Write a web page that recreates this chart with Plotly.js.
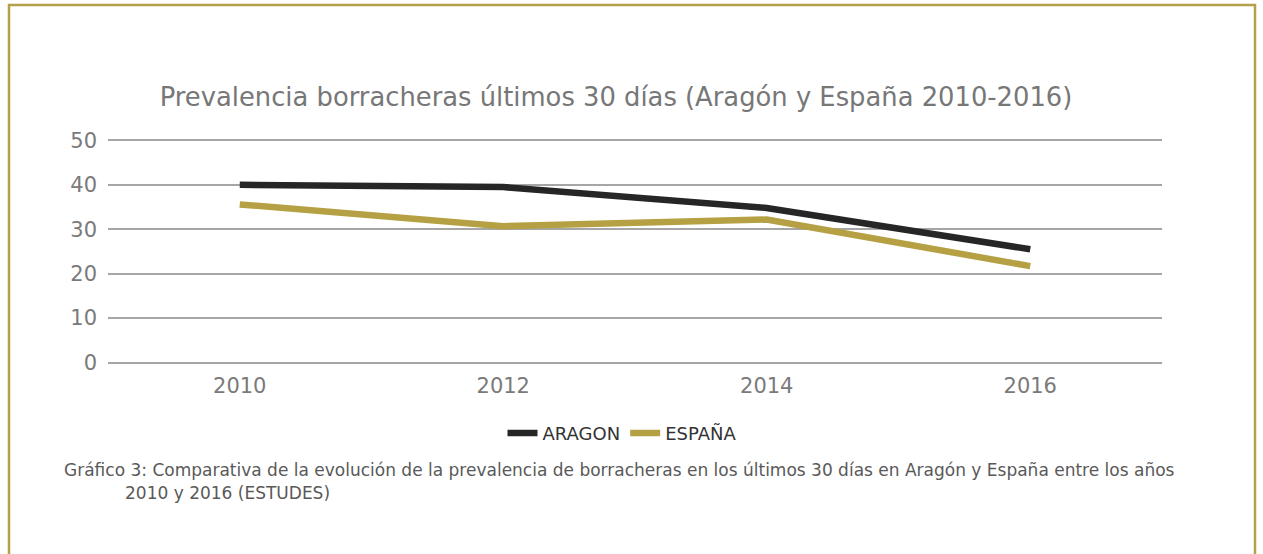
<!DOCTYPE html>
<html>
<head>
<meta charset="utf-8">
<script src="https://cdn.plot.ly/plotly-3.0.1.min.js"></script>
<style>
html,body{margin:0;padding:0;background:#fff;}
#chart{width:1263px;height:554px;}
</style>
</head>
<body>
<div id="chart"></div>
<script>
const years = ['2010', '2012', '2014', '2016'];
const aragon = [40.0, 39.5, 34.8, 25.5];
const espana = [35.6, 30.7, 32.2, 21.7];
const seriesNames = ['ARAGON', 'ESPAÑA'];
const yTicks = [0, 10, 20, 30, 40, 50];
const titleText = 'Prevalencia borracheras últimos 30 días (Aragón y España 2010-2016)';
const captionLine1 = 'Gráfico 3: Comparativa de la evolución de la prevalencia de borracheras en los últimos 30 días en Aragón y España entre los años';
const captionLine2 = '2010 y 2016 (ESTUDES)';

const FONT = 'DejaVu Sans, sans-serif';
const W = 1263, H = 554;
// plot area: x 108..1162, y 140 (50) .. 363 (0), padded so edge gridlines are drawn
const PADV = 1;
const unitPx = 223 / 50;
const L = 108, R = 101;
const T = 140 - PADV * unitPx, B = (H - 363) - PADV * unitPx;
const pw = W - L - R, ph = H - T - B;
function px2x(p){ return (p - L) / pw; }
function py2y(p){ return (H - B - p) / ph; }

const traces = [
  {x: years, y: aragon, name: seriesNames[0], type: 'scatter', mode: 'lines',
   line: {color: '#262626', width: 6.5}},
  {x: years, y: espana, name: seriesNames[1], type: 'scatter', mode: 'lines',
   line: {color: '#b5a143', width: 6.5}}
];

const layout = {
  width: W, height: H,
  margin: {l: L, r: R, t: T, b: B, pad: 0},
  paper_bgcolor: '#ffffff', plot_bgcolor: '#ffffff',
  font: {family: FONT, color: '#7a7a7a'},
  showlegend: true,
  title: {text: titleText, font: {family: FONT, size: 25.8, color: '#777777'},
          x: 616 / W, xanchor: 'center', y: 1 - 97 / H, yanchor: 'middle'},
  xaxis: {type: 'category', range: [-0.5, 3.5], showgrid: false, zeroline: false,
          showline: false, ticks: '', tickfont: {family: FONT, size: 21, color: '#7a7a7a'},
          ticklabelstandoff: 4, fixedrange: true},
  yaxis: {range: [-PADV, 50 + PADV], tickvals: yTicks, showgrid: true,
          gridcolor: '#a6a6a6', gridwidth: 2, zeroline: false, showline: false, ticks: '',
          tickfont: {family: FONT, size: 21, color: '#7a7a7a'}, ticklabelstandoff: 10,
          fixedrange: true},
  legend: {orientation: 'h', x: px2x(622), xanchor: 'center', y: py2y(434), yanchor: 'middle',
           font: {family: FONT, size: 18, color: '#333333'}, itemwidth: 30},
  shapes: [
    {type: 'rect', xref: 'paper', yref: 'paper', x0: px2x(9), x1: px2x(1255),
     y0: py2y(580), y1: py2y(4), line: {color: '#b5a14a', width: 2.5}, fillcolor: 'rgba(0,0,0,0)', layer: 'below'}
  ],
  annotations: [
    {text: captionLine1, xref: 'paper', yref: 'paper', x: px2x(62), y: py2y(471),
     xanchor: 'left', yanchor: 'middle', showarrow: false,
     font: {family: FONT, size: 17, color: '#595959'}},
    {text: captionLine2, xref: 'paper', yref: 'paper', x: px2x(123), y: py2y(494),
     xanchor: 'left', yanchor: 'middle', showarrow: false,
     font: {family: FONT, size: 17, color: '#595959'}}
  ]
};

Plotly.newPlot('chart', traces, layout, {displayModeBar: false, staticPlot: true});
</script>
</body>
</html>
